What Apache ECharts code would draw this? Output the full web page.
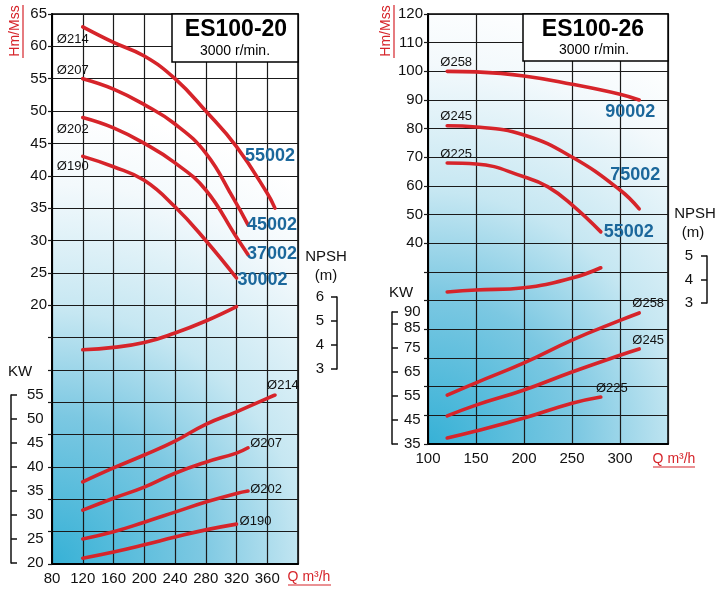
<!DOCTYPE html>
<html>
<head>
<meta charset="utf-8">
<title>ES100-20 / ES100-26</title>
<script src="https://cdn.jsdelivr.net/npm/echarts@6/dist/echarts.min.js"></script>
<style>
  html, body { margin: 0; padding: 0; background: #fff; }
  #chart { width: 716px; height: 592px; }
</style>
</head>
<body>
<div id="chart"></div>
<script>
// ---- ES100-20 (left) ----
var qLabelsL = [80, 120, 160, 200, 240, 280, 320, 360];
var hLabelsL = [20, 25, 30, 35, 40, 45, 50, 55, 60, 65];
var kwLabelsL = [20, 25, 30, 35, 40, 45, 50, 55];
var npshLabelsL = [3, 4, 5, 6];

var qH214 = [120, 160, 200, 240, 280, 320, 360, 370];
var h214  = [63, 60.6, 58.5, 55, 50, 44.5, 37.3, 35];
var qH207 = [120, 160, 200, 240, 280, 316, 335];
var h207  = [55, 53.4, 51, 48, 43.5, 36.5, 32.4];
var qH202 = [120, 160, 200, 240, 280, 320, 335];
var h202  = [49, 47.4, 45, 42, 37.8, 30.5, 27.8];
var qH190 = [120, 160, 200, 240, 280, 320];
var h190  = [43, 41.4, 39.3, 35.2, 30, 24.2];

var kw214 = [36.9, 39.8, 42.5, 45.4, 48.9, 51.5, 54.3, 55];
var qKw207 = [120, 160, 200, 240, 280, 320, 335];
var kw207 = [31, 33.5, 35.8, 38.7, 41, 42.9, 44];
var kw202 = [25, 26.5, 28.5, 30.6, 32.7, 34.5, 35];
var kw190 = [21, 22.3, 23.8, 25.4, 26.9, 28.1];

var qNpshL = [120, 160, 200, 240, 280, 320];
var npshL  = [3.8, 3.9, 4.1, 4.5, 5.0, 5.6];

// ---- ES100-26 (right) ----
var qLabelsR = [100, 150, 200, 250, 300];
var hLabelsR = [40, 50, 60, 70, 80, 90, 100, 110, 120];
var kwLabelsR = [35, 45, 55, 65, 75, 85, 90];
var npshLabelsR = [3, 4, 5];

var qH258 = [120, 150, 200, 250, 300, 320];
var h258  = [100, 99.8, 98.4, 95.5, 92, 90];
var qH245 = [120, 150, 200, 250, 300, 320];
var h245  = [81, 80.6, 77.8, 70.1, 58.6, 52];
var qH225 = [120, 150, 200, 225, 250, 280];
var h225  = [68, 67.7, 63.2, 59.7, 53.4, 44];

var qKw258 = [120, 150, 200, 250, 300, 320];
var kw258  = [55.4, 60.5, 68.8, 78.3, 86.5, 89.6];
var kw245  = [46.7, 51.2, 57.5, 65, 72, 74.6];
var qKw225 = [120, 150, 200, 250, 280];
var kw225  = [37.5, 40.4, 45.8, 52, 54.6];

var qNpshR = [120, 150, 200, 250, 280];
var npshR  = [3.47, 3.55, 3.65, 4.06, 4.5];

var FONT = "'Liberation Sans', Arial, sans-serif";
var RED = '#d6242a', BLUE = '#1b679b', INK = '#111';

var chart = echarts.init(document.getElementById('chart'));

function pairs(q, v) {
  return q.map(function (x, i) { return [x, v[i]]; });
}
function first(q, v) { return [q[0], v[0]]; }
function last(q, v) { return [q[q.length - 1], v[v.length - 1]]; }

function curve(xi, yi, q, v) {
  return {
    type: 'line', xAxisIndex: xi, yAxisIndex: yi,
    data: pairs(q, v), smooth: 0.45,
    symbol: 'none', silent: true, z: 3,
    lineStyle: { color: RED, width: 3.6, cap: 'round' }
  };
}

// text tags hung on curve end points
function tags(xi, yi, list) {
  return {
    type: 'scatter', xAxisIndex: xi, yAxisIndex: yi,
    symbolSize: 1, itemStyle: { color: 'rgba(0,0,0,0)', opacity: 1 }, silent: true, z: 5,
    data: list.map(function (t) {
      return {
        value: t[0],
        label: {
          show: true, position: 'inside', formatter: t[1], offset: t[2],
          fontFamily: FONT, fontSize: t[3] ? 18 : 13,
          fontWeight: t[3] ? 'bold' : 'normal', color: t[3] ? BLUE : INK,
          textBorderWidth: 0, textBorderColor: 'transparent', opacity: 1
        }
      };
    })
  };
}

function bg(r) {
  return {
    type: 'radial', x: 0, y: 1, r: r,
    colorStops: [
      { offset: 0, color: '#36b1d6' },
      { offset: 0.33, color: '#7cc8e2' },
      { offset: 0.56, color: '#c6e7f2' },
      { offset: 0.84, color: '#f3f9fc' },
      { offset: 1, color: '#ffffff' }
    ]
  };
}

var labelFont = { fontFamily: FONT, fontSize: 15, color: INK };
var split = { show: true, lineStyle: { color: '#1a1a1a', width: 1.2 } };

function qAxis(gi, min, max, step, labels) {
  return {
    gridIndex: gi, type: 'value', min: min, max: max, interval: step,
    axisLine: { onZero: false, lineStyle: { color: '#000', width: 2 } },
    axisTick: { show: false },
    axisLabel: Object.assign({ margin: 7, customValues: labels }, labelFont),
    splitLine: split
  };
}
function hiddenX(gi, min, max) {
  return { gridIndex: gi, type: 'value', min: min, max: max, show: false };
}
function hAxis(gi, min, max, step, labels) {
  return {
    gridIndex: gi, type: 'value', min: min, max: max, interval: step,
    axisLine: { show: true, onZero: false, lineStyle: { color: '#000', width: 2 } },
    axisTick: { show: true, length: 4, lineStyle: { color: '#1a1a1a', width: 1.2 } },
    axisLabel: Object.assign({ margin: 5, customValues: labels }, labelFont),
    splitLine: split
  };
}
function sideAxis(gi, min, max, labels, pos, offset, margin, fmt) {
  return {
    gridIndex: gi, type: 'value', min: min, max: max,
    position: pos, offset: offset,
    axisLine: { show: true, onZero: false, lineStyle: { color: INK, width: 1.5 } },
    axisTick: { show: true, inside: true, length: 6, customValues: labels,
      lineStyle: { color: INK, width: 1.5 } },
    axisLabel: Object.assign({
      inside: true, margin: margin, customValues: labels,
      formatter: fmt || function (v) { return v; },
      rich: { lo: { fontFamily: FONT, fontSize: 15, color: INK, padding: [8, 0, 0, 0] } }
    }, labelFont),
    splitLine: { show: false }
  };
}

function txt(x, y, s, opt) {
  opt = opt || {};
  return {
    type: 'text', x: x, y: y, z: 20, rotation: opt.rot || 0,
    style: {
      text: s, fill: opt.color || INK, fontFamily: FONT,
      fontSize: opt.size || 15, fontWeight: opt.bold ? 'bold' : 'normal',
      align: 'center', verticalAlign: 'middle'
    }
  };
}
function rule(x1, y1, x2, y2) {
  return { type: 'line', z: 20, shape: { x1: x1, y1: y1, x2: x2, y2: y2 },
    style: { stroke: RED, lineWidth: 1.2 } };
}
function box(x, y, w, h) {
  return { type: 'rect', z: 15, shape: { x: x, y: y, width: w, height: h },
    style: { fill: '#fff', stroke: '#000', lineWidth: 1.5 } };
}

var option = {
  animation: false,
  backgroundColor: '#fff',
  grid: [
    { left: 52, top: 14, width: 246, height: 550, show: true, backgroundColor: bg(1.83),
      borderColor: '#000', borderWidth: 1.5, outerBoundsMode: 'none' },
    { left: 52, top: 395, width: 246, height: 168, outerBoundsMode: 'none' },
    { left: 52, top: 297, width: 246, height: 72, outerBoundsMode: 'none' },
    { left: 428, top: 14, width: 240, height: 430, show: true, backgroundColor: bg(1.875),
      borderColor: '#000', borderWidth: 1.5, outerBoundsMode: 'none' },
    { left: 428, top: 312, width: 240, height: 132, outerBoundsMode: 'none' },
    { left: 428, top: 256, width: 240, height: 47, outerBoundsMode: 'none' }
  ],
  xAxis: [
    qAxis(0, 80, 400, 40, qLabelsL),
    hiddenX(1, 80, 400),
    hiddenX(2, 80, 400),
    qAxis(3, 100, 350, 50, qLabelsR),
    hiddenX(4, 100, 350),
    hiddenX(5, 100, 350)
  ],
  yAxis: [
    hAxis(0, -20, 65, 5, hLabelsL),
    sideAxis(1, 20, 55, kwLabelsL, 'left', 41, 16),
    sideAxis(2, 3, 6, npshLabelsL, 'right', 39, 13),
    hAxis(3, -30, 120, 10, hLabelsR),
    sideAxis(4, 35, 90, kwLabelsR, 'left', 36, 12, function (v) { return v === 85 ? '{lo|85}' : v; }),
    sideAxis(5, 3, 5, npshLabelsR, 'right', 39, 14)
  ],
  series: [
    curve(0, 0, qH214, h214),
    curve(0, 0, qH207, h207),
    curve(0, 0, qH202, h202),
    curve(0, 0, qH190, h190),
    curve(1, 1, qH214, kw214),
    curve(1, 1, qKw207, kw207),
    curve(1, 1, qKw207, kw202),
    curve(1, 1, qH190, kw190),
    curve(2, 2, qNpshL, npshL),
    tags(0, 0, [
      [first(qH214, h214), 'Ø214', [-10, 12]],
      [first(qH207, h207), 'Ø207', [-10, -8]],
      [first(qH202, h202), 'Ø202', [-10, 12]],
      [first(qH190, h190), 'Ø190', [-10, 10]],
      [last(qH214, h214), '55002', [-5, -52], true],
      [last(qH207, h207), '45002', [24, 0], true],
      [last(qH202, h202), '37002', [24, -1], true],
      [last(qH190, h190), '30002', [26, 2], true]
    ]),
    tags(1, 1, [
      [last(qH214, kw214), 'Ø214', [8, -10]],
      [last(qKw207, kw207), 'Ø207', [18, -4]],
      [last(qKw207, kw202), 'Ø202', [18, -2]],
      [last(qH190, kw190), 'Ø190', [19, -3]]
    ]),

    curve(3, 3, qH258, h258),
    curve(3, 3, qH245, h245),
    curve(3, 3, qH225, h225),
    curve(4, 4, qKw258, kw258),
    curve(4, 4, qKw258, kw245),
    curve(4, 4, qKw225, kw225),
    curve(5, 5, qNpshR, npshR),
    tags(3, 3, [
      [first(qH258, h258), 'Ø258', [9, -9]],
      [first(qH245, h245), 'Ø245', [9, -9]],
      [first(qH225, h225), 'Ø225', [9, -9]],
      [last(qH258, h258), '90002', [-9, 12], true],
      [last(qH245, h245), '75002', [-4, -34], true],
      [last(qH225, h225), '55002', [28, 0], true]
    ]),
    tags(4, 4, [
      [last(qKw258, kw258), 'Ø258', [9, -10]],
      [last(qKw258, kw245), 'Ø245', [9, -9]],
      [last(qKw225, kw225), 'Ø225', [11, -9]]
    ])
  ],
  graphic: [
    // left panel decorations
    box(172, 14, 126, 48),
    txt(236, 30, 'ES100-20', { size: 23, bold: true, color: '#000' }),
    txt(235, 51, '3000 r/min.', { size: 14, color: '#000' }),
    txt(15, 31, 'Hm/Mss', { rot: Math.PI / 2, color: RED, size: 14 }),
    rule(23, 5, 23, 58),
    txt(309, 577, 'Q m³/h', { color: RED, size: 14 }),
    rule(288, 585, 331, 585),
    txt(20, 372, 'KW'),
    txt(326, 257, 'NPSH'),
    txt(326, 276, '(m)'),
    // right panel decorations
    box(523, 14, 145, 47),
    txt(593, 30, 'ES100-26', { size: 23, bold: true, color: '#000' }),
    txt(594, 50, '3000 r/min.', { size: 14, color: '#000' }),
    txt(386, 31, 'Hm/Mss', { rot: Math.PI / 2, color: RED, size: 14 }),
    rule(394, 5, 394, 58),
    txt(674, 459, 'Q m³/h', { color: RED, size: 14 }),
    rule(653, 467, 695, 467),
    txt(401, 293, 'KW'),
    txt(695, 214, 'NPSH'),
    txt(693, 233, '(m)')
  ]
};

chart.setOption(option);
</script>
</body>
</html>
